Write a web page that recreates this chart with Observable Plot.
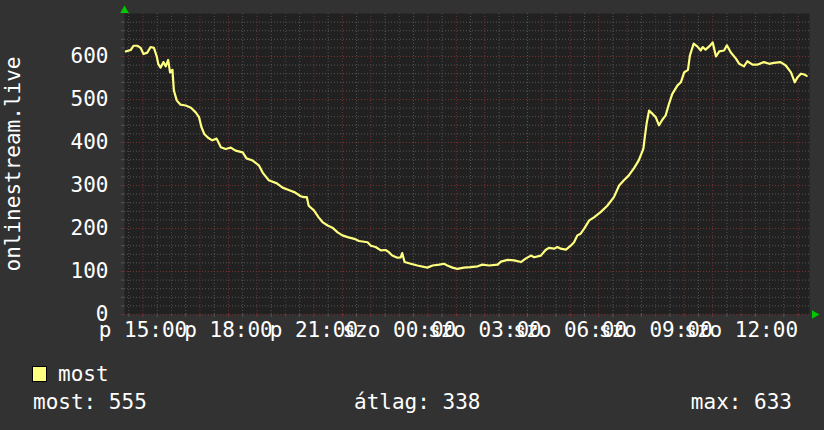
<!DOCTYPE html>
<html>
<head>
<meta charset="utf-8">
<script src="https://cdn.jsdelivr.net/npm/d3@7"></script>
<script src="https://cdn.jsdelivr.net/npm/@observablehq/plot@0.6"></script>
<style>
  html, body { margin: 0; padding: 0; background: #323232; }
  #wrap { position: relative; width: 824px; height: 430px; background: #323232; overflow: hidden;
          font-family: "DejaVu Sans Mono", monospace; font-size: 21px; color: #ffffff; }
  #chart svg { display: block; }
  .lg { position: absolute; white-space: pre; line-height: 1; }
  #sw { position: absolute; left: 32px; top: 366px; width: 13px; height: 14px; background: #ffff80; border: 1px solid #000; }
</style>
</head>
<body>
<div id="wrap">
  <div id="chart"></div>
  <div id="sw"></div>
  <div class="lg" id="lgName" style="left:58px; top:364px;"></div>
  <div class="lg" id="stNow" style="left:33px; top:392px;"></div>
  <div class="lg" id="stAvg" style="left:354px; top:392px;"></div>
  <div class="lg" id="stMax" style="right:32px; top:392px;"></div>
</div>
<script>
// ---- data ----
const seriesName = "most";
const yLabel = "onlinestream.live";
const times = [
  "2024-05-17T14:24","2024-05-17T14:34","2024-05-17T14:40","2024-05-17T14:48","2024-05-17T14:55",
  "2024-05-17T15:01","2024-05-17T15:09","2024-05-17T15:16","2024-05-17T15:23","2024-05-17T15:29",
  "2024-05-17T15:32","2024-05-17T15:37","2024-05-17T15:43","2024-05-17T15:48","2024-05-17T15:53",
  "2024-05-17T15:57","2024-05-17T16:02","2024-05-17T16:05","2024-05-17T16:11","2024-05-17T16:19",
  "2024-05-17T16:30","2024-05-17T16:41","2024-05-17T16:51","2024-05-17T16:58","2024-05-17T17:03",
  "2024-05-17T17:09","2024-05-17T17:17","2024-05-17T17:26","2024-05-17T17:35","2024-05-17T17:44",
  "2024-05-17T17:54","2024-05-17T18:05","2024-05-17T18:15","2024-05-17T18:30","2024-05-17T18:38",
  "2024-05-17T18:51","2024-05-17T19:04","2024-05-17T19:12","2024-05-17T19:25","2024-05-17T19:42",
  "2024-05-17T19:54","2024-05-17T20:11","2024-05-17T20:20","2024-05-17T20:32","2024-05-17T20:39",
  "2024-05-17T20:45","2024-05-17T20:49","2024-05-17T21:00","2024-05-17T21:10","2024-05-17T21:18",
  "2024-05-17T21:29","2024-05-17T21:39","2024-05-17T21:50","2024-05-17T22:00","2024-05-17T22:11",
  "2024-05-17T22:25","2024-05-17T22:35","2024-05-17T22:53","2024-05-17T23:00","2024-05-17T23:10",
  "2024-05-17T23:21","2024-05-17T23:31","2024-05-17T23:38","2024-05-17T23:45","2024-05-17T23:56",
  "2024-05-18T00:03","2024-05-18T00:06","2024-05-18T00:11","2024-05-18T00:24","2024-05-18T00:38",
  "2024-05-18T00:59","2024-05-18T01:10","2024-05-18T01:24","2024-05-18T01:34","2024-05-18T01:41",
  "2024-05-18T01:52","2024-05-18T02:02","2024-05-18T02:16","2024-05-18T02:30","2024-05-18T02:45",
  "2024-05-18T02:55","2024-05-18T03:09","2024-05-18T03:27","2024-05-18T03:34","2024-05-18T03:48",
  "2024-05-18T04:02","2024-05-18T04:16","2024-05-18T04:26","2024-05-18T04:37","2024-05-18T04:44",
  "2024-05-18T04:58","2024-05-18T05:08","2024-05-18T05:15","2024-05-18T05:26","2024-05-18T05:33",
  "2024-05-18T05:40","2024-05-18T05:51","2024-05-18T06:01","2024-05-18T06:08","2024-05-18T06:15",
  "2024-05-18T06:22","2024-05-18T06:29","2024-05-18T06:40","2024-05-18T06:50","2024-05-18T07:04",
  "2024-05-18T07:18","2024-05-18T07:32","2024-05-18T07:43","2024-05-18T07:53","2024-05-18T08:03",
  "2024-05-18T08:14","2024-05-18T08:24","2024-05-18T08:34","2024-05-18T08:37","2024-05-18T08:41",
  "2024-05-18T08:46","2024-05-18T08:53","2024-05-18T09:00","2024-05-18T09:07","2024-05-18T09:14",
  "2024-05-18T09:21","2024-05-18T09:28","2024-05-18T09:35","2024-05-18T09:46","2024-05-18T09:53",
  "2024-05-18T10:00","2024-05-18T10:08","2024-05-18T10:12","2024-05-18T10:20","2024-05-18T10:28",
  "2024-05-18T10:35","2024-05-18T10:39","2024-05-18T10:45","2024-05-18T10:55","2024-05-18T11:00",
  "2024-05-18T11:07","2024-05-18T11:14","2024-05-18T11:24","2024-05-18T11:30","2024-05-18T11:38",
  "2024-05-18T11:49","2024-05-18T11:56","2024-05-18T12:06","2024-05-18T12:13","2024-05-18T12:24",
  "2024-05-18T12:34","2024-05-18T12:48","2024-05-18T12:59","2024-05-18T13:09","2024-05-18T13:23",
  "2024-05-18T13:34","2024-05-18T13:45","2024-05-18T13:53","2024-05-18T13:59","2024-05-18T14:06",
  "2024-05-18T14:13","2024-05-18T14:18"
];
const values = [
  612,615,625,625,620, 606,609,622,620,600, 583,574,587,577,592, 563,569,521,498,488,
  486,481,470,459,436, 420,411,405,409,389, 385,388,381,377,363, 358,347,330,312,305,
  295,288,284,275,273, 273,253,242,226,215, 207,202,191,184,180, 176,171,168,160,157,
  149,150,145,137,132, 133,143,122,118,114, 109,114,116,118,114, 109,106,109,110,112,
  116,114,116,123,127, 126,122,130,137,133, 137,150,155,153,157, 153,151,160,168,184,
  188,199,219,226,238, 253,273,300,312,323, 340,358,385,412,445, 474,467,459,440,453,
  463,490,513,533,540, 563,569,602,630,623, 614,622,616,626,633, 600,612,614,626,610,
  595,583,577,589,581, 581,587,583,585,587, 579,563,540,552,560, 558,555
];
const xStart = "2024-05-17T14:21";
const xEnd = "2024-05-18T14:24";
const xTickTimes = ["2024-05-17T15:00","2024-05-17T18:00","2024-05-17T21:00","2024-05-18T00:00",
                    "2024-05-18T03:00","2024-05-18T06:00","2024-05-18T09:00","2024-05-18T12:00"];
const xTickLabels = ["p 15:00","p 18:00","p 21:00","szo 00:00","szo 03:00","szo 06:00","szo 09:00","szo 12:00"];
const yTickValues = [0, 100, 200, 300, 400, 500, 600];
const yMax = 700;
const yMajorStep = 100;
const yMinorStep = 20;
const statLabels = ["most:", "átlag:", "max:"];
const statValues = [555, 338, 633];

// ---- build ----
const P = s => new Date(s + ":00Z");
const data = times.map((t, i) => ({t: P(t), v: values[i]}));
const start = P(xStart), end = P(xEnd);
const hourTicks = d3.utcHour.range(d3.utcHour.ceil(start), end);
const halfTicks = d3.utcMinute.every(30).range(start, end).filter(d => d.getUTCMinutes() === 30);
const labelTimes = xTickTimes.map(P);
const labelMap = new Map(labelTimes.map((d, i) => [+d, xTickLabels[i]]));
const yMajor = d3.range(0, yMax, yMajorStep);
const yMinor = d3.range(0, yMax, yMinorStep).filter(v => v % yMajorStep !== 0);

const gridGray = "#555555";
const gridRed = "#7a2f2f";

const chart = Plot.plot({
  width: 824,
  height: 345,
  marginLeft: 124,
  marginRight: 15,
  marginTop: 13,
  marginBottom: 31,
  style: {background: "transparent", fontFamily: "DejaVu Sans Mono", fontSize: "21px", color: "#ffffff", overflow: "visible"},
  x: {type: "utc", domain: [start, end]},
  y: {domain: [0, yMax]},
  marks: [
    Plot.frame({fill: "#212121", stroke: null}),
    Plot.ruleX(halfTicks, {stroke: gridGray, strokeDasharray: "1,2"}),
    Plot.ruleY(yMinor, {stroke: gridGray, strokeDasharray: "1,2"}),
    Plot.ruleX(hourTicks, {stroke: gridRed, strokeDasharray: "1,2"}),
    Plot.ruleY(yMajor, {stroke: gridRed, strokeDasharray: "1,2"}),
    Plot.axisX(halfTicks, {tickSize: 3, stroke: gridGray, tickFormat: () => "", label: null}),
    Plot.axisX(hourTicks, {tickSize: 3, stroke: gridRed, tickFormat: () => "", label: null}),
    Plot.axisY(yMinor, {tickSize: 3, stroke: gridGray, tickFormat: () => "", label: null}),
    Plot.axisY(yMajor, {tickSize: 3, stroke: gridRed, tickFormat: () => "", label: null}),
    Plot.axisX(labelTimes, {tickSize: 0, tickPadding: 8, tickFormat: d => labelMap.get(+d), fill: "#ffffff", fontSize: 21, label: null}),
    Plot.axisY(yTickValues, {tickSize: 0, tickPadding: 16, fill: "#ffffff", fontSize: 21, label: null}),
    Plot.text([yLabel], {frameAnchor: "left", dx: -111, rotate: -90, fill: "#ffffff", fontSize: 21, textAnchor: "middle", lineAnchor: "middle"}),
    Plot.line(data, {x: "t", y: "v", stroke: "#ffff80", strokeWidth: 2.2}),
    Plot.dot([{t: start, v: yMax}], {x: "t", y: "v", symbol: "triangle", r: 3.2, fill: "#00c800", stroke: null, dy: -3}),
    Plot.dot([{t: end, v: 0}], {x: "t", y: "v", symbol: "triangle", r: 3.2, fill: "#00c800", stroke: null, rotate: 90, dx: 5})
  ]
});
document.getElementById("chart").appendChild(chart);

document.getElementById("lgName").textContent = seriesName;
document.getElementById("stNow").textContent = statLabels[0] + " " + statValues[0];
document.getElementById("stAvg").textContent = statLabels[1] + " " + statValues[1];
document.getElementById("stMax").textContent = statLabels[2] + " " + statValues[2];
</script>
</body>
</html>
